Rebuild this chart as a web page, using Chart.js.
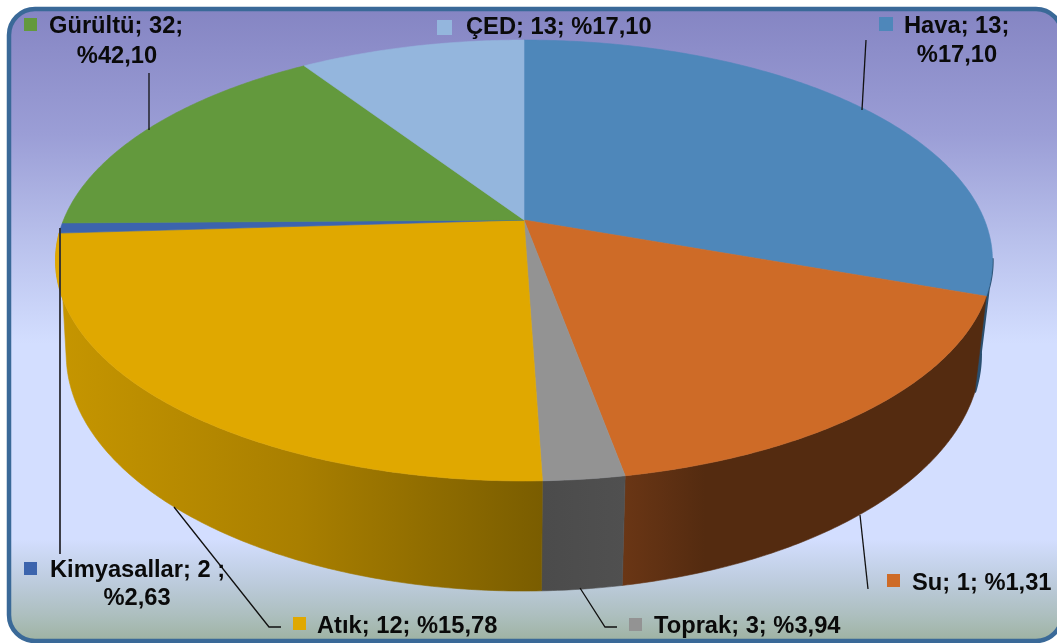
<!DOCTYPE html>
<html lang="tr">
<head>
<meta charset="utf-8">
<title>Pie</title>
<style>html,body{margin:0;padding:0;background:#fff}canvas{display:block}</style>
<script src="https://cdn.jsdelivr.net/npm/chart.js@4"></script>
</head>
<body>
<canvas id="c" width="1057" height="643"></canvas>
<script>
// Categories and the visible share of the circle (in %)
const categories = ['Hava', 'Su', 'Toprak', 'Atık', 'Kimyasallar', 'Gürültü', 'ÇED'];
const sliceShares = [30.45, 16.67, 2.36, 24.55, 0.75, 15.94, 9.28];
// Printed labels, as they stand in the picture
const labelLines = [
  ['Hava; 13;', '%17,10'],
  ['Su; 1; %1,31'],
  ['Toprak; 3; %3,94'],
  ['Atık; 12; %15,78'],
  ['Kimyasallar; 2 ;', '%2,63'],
  ['Gürültü; 32;', '%42,10'],
  ['ÇED; 13; %17,10']
];
const topColors = ['#4e87ba', '#ce6b27', '#939393', '#e0a800', '#3c64ad', '#63993d', '#94b6dd'];
const wallStops = [
  [[0, '#2a4f70'], [1, '#2a4f70']],
  [[0, '#6a3615'], [0.22, '#542b10'], [1, '#542b10']],
  [[0, '#4b4b4b'], [1, '#505050']],
  [[0, '#c69600'], [0.5, '#a97f00'], [1, '#7a5d00']],
  [[0, '#2c4a80'], [1, '#2c4a80']],
  [[0, '#4a7030'], [1, '#4a7030']],
  [[0, '#6f88a8'], [1, '#6f88a8']]
];
const wallSpan = [[780, 992], [624, 990], [542, 626], [55, 542], [55, 70], [55, 300], [300, 525]];
// Label placement: marker x, y, size; text x, first baseline; second line centre and baseline
const labelBoxes = [
  {mx: 879, my: 17, ms: 14, tx: 904, y: 33, cx: 957, y2: 62},
  {mx: 887, my: 574, ms: 13, tx: 912, y: 590},
  {mx: 629, my: 618, ms: 13, tx: 654, y: 633},
  {mx: 293, my: 617, ms: 13, tx: 317, y: 633},
  {mx: 24, my: 562, ms: 13, tx: 50, y: 577, cx: 137, y2: 605},
  {mx: 24, my: 18, ms: 13, tx: 49, y: 33, cx: 117, y2: 63},
  {mx: 437, my: 20, ms: 15, tx: 466, y: 34}
];
const leaders = [
  {w: 1.3, c: '#111', pts: [[866, 40], [862, 110]]},
  {w: 1.3, c: '#111', pts: [[860, 515], [868, 589]]},
  {w: 1.3, c: '#111', pts: [[580, 588], [605, 627], [617, 627]]},
  {w: 1.3, c: '#111', pts: [[174, 507], [269, 627], [281, 627]]},
  {w: 1.8, c: '#2c2c34', pts: [[60, 228], [60, 554]]},
  {w: 1.3, c: '#111', pts: [[149, 73], [149, 130]]}
];
const topPlane = {cx: 524, cy: 220, A: 460.5, B: 213, k: 0.1837};
const basePlane = {cx: 523.5, cy: 310.5, A: 449.5, B: 229, k: 0.1837};
// Part of the lower rim that can be seen (radians, Chart.js angle convention)
const visibleFrom = (100 - 90) * Math.PI / 180;
const visibleTo = (258 - 90) * Math.PI / 180;

function project(p, a) {
  const u = Math.cos(a), v = -Math.sin(a), w = 1 + p.k * v;
  return [p.cx + p.A * u / w, p.cy - p.B * v / w];
}
function rim(p, a0, a1) {
  const n = Math.max(2, Math.ceil((a1 - a0) / 0.01)), pts = [];
  for (let i = 0; i <= n; i++) pts.push(project(p, a0 + (a1 - a0) * i / n));
  return pts;
}
function trace(ctx, pts) {
  ctx.beginPath();
  pts.forEach((q, i) => i ? ctx.lineTo(q[0], q[1]) : ctx.moveTo(q[0], q[1]));
  ctx.closePath();
}
const panel = {
  id: 'panel',
  beforeDraw(chart) {
    const ctx = chart.ctx;
    ctx.save();
    ctx.fillStyle = '#fff';
    ctx.fillRect(0, 0, chart.width, chart.height);
    const g = ctx.createLinearGradient(0, 9, 0, 640);
    [[0, '#8585c3'], [0.2, '#9b9ed6'], [0.37, '#b9c1ec'], [0.53, '#d3deff'], [0.84, '#d3deff'],
     [0.91, '#bccbdc'], [0.96, '#adbfbf'], [1, '#9fb3a3']].forEach(s => g.addColorStop(s[0], s[1]));
    ctx.beginPath();
    ctx.roundRect(9, 9, 1053, 632, 26);
    ctx.fillStyle = g;
    ctx.fill();
    ctx.lineWidth = 4.5;
    ctx.strokeStyle = '#3a6998';
    ctx.stroke();
    ctx.restore();
  }
};
const pie3d = {
  id: 'pie3d',
  beforeDatasetDraw(chart) {
    const ctx = chart.ctx, arcs = chart.getDatasetMeta(0).data;
    ctx.save();
    arcs.forEach((arc, i) => {
      const a0 = arc.startAngle, a1 = arc.endAngle;
      const b0 = Math.max(a0, visibleFrom), b1 = Math.min(a1, visibleTo);
      if (b1 <= b0) return;
      const t = rim(topPlane, b0, a1), b = rim(basePlane, b0, b1).reverse();
      const g = ctx.createLinearGradient(wallSpan[i][0], 0, wallSpan[i][1], 0);
      wallStops[i].forEach(s => g.addColorStop(s[0], s[1]));
      trace(ctx, t.concat(b));
      ctx.fillStyle = g;
      ctx.strokeStyle = g;
      // the first slice only shows as a thin strip along the right-hand edge
      ctx.lineWidth = a0 < visibleFrom ? 2.4 : 0.6;
      ctx.fill();
      ctx.stroke();
    });
    arcs.forEach((arc, i) => {
      const t = rim(topPlane, arc.startAngle, arc.endAngle);
      trace(ctx, [[topPlane.cx, topPlane.cy]].concat(t));
      ctx.fillStyle = topColors[i];
      ctx.strokeStyle = topColors[i];
      ctx.lineWidth = 0.6;
      ctx.fill();
      ctx.stroke();
    });
    ctx.restore();
    return false;
  },
  afterDatasetsDraw(chart) {
    const ctx = chart.ctx;
    ctx.save();
    leaders.forEach(l => {
      ctx.lineWidth = l.w;
      ctx.strokeStyle = l.c;
      ctx.beginPath();
      l.pts.forEach((q, i) => i ? ctx.lineTo(q[0], q[1]) : ctx.moveTo(q[0], q[1]));
      ctx.stroke();
    });
    ctx.font = 'bold 23.7px "Liberation Sans", Arial, sans-serif';
    ctx.textBaseline = 'alphabetic';
    labelLines.forEach((lines, i) => {
      const b = labelBoxes[i];
      ctx.fillStyle = topColors[i];
      ctx.fillRect(b.mx, b.my, b.ms, b.ms);
      ctx.fillStyle = '#0a0a0a';
      ctx.textAlign = 'left';
      ctx.fillText(lines[0], b.tx, b.y);
      if (lines[1]) {
        ctx.textAlign = 'center';
        ctx.fillText(lines[1], b.cx, b.y2);
      }
    });
    ctx.restore();
  }
};
new Chart(document.getElementById('c'), {
  type: 'pie',
  data: {
    labels: categories,
    datasets: [{data: sliceShares, backgroundColor: topColors, borderWidth: 0}]
  },
  options: {
    responsive: false,
    animation: false,
    plugins: {legend: {display: false}, tooltip: {enabled: false}, title: {display: false}}
  },
  plugins: [panel, pie3d]
});
</script>
</body>
</html>
